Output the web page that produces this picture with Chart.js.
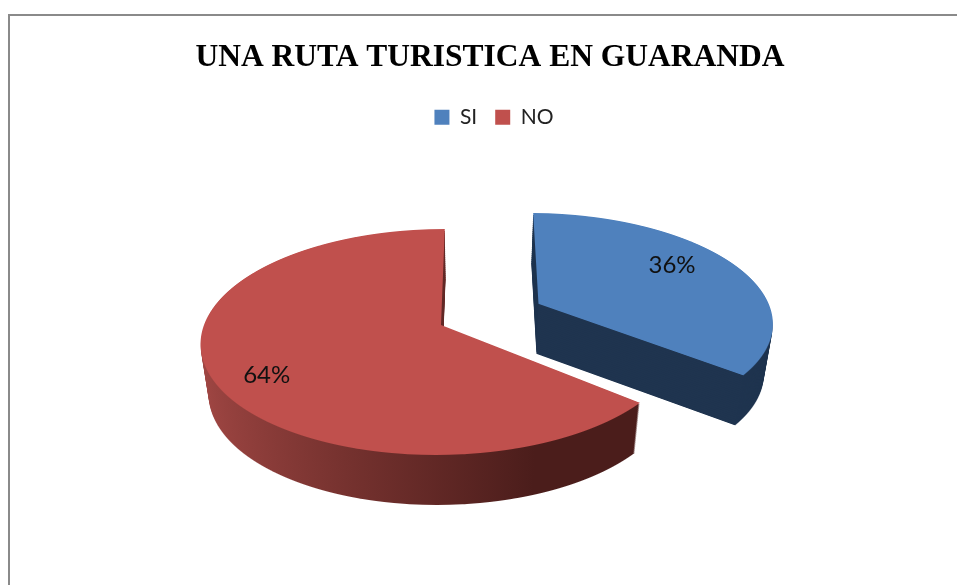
<!DOCTYPE html>
<html>
<head>
<meta charset="utf-8">
<style>html,body{margin:0;padding:0;background:#fff;overflow:hidden;width:957px;height:585px}canvas{display:block}</style>
<script src="https://cdn.jsdelivr.net/npm/chart.js@4/dist/chart.umd.min.js"></script>
</head>
<body>
<canvas id="c" width="980" height="585"></canvas>
<script>
const categories = ['SI', 'NO'];
const percentages = [36, 64];
const sliceColors = ['#4f81bd', '#c0504d'];
const chartTitle = 'UNA RUTA TURISTICA EN GUARANDA';

// Perspective projection of the pie plane (styling, not data)
const view = {vanishX: 470, horizonY: 325, squash: 0.4658, k: 0.000635, planeX: -29};
const explode = [110, 0];
const labelRadius = [176, 190];
const labelShift = -6.7 * Math.PI / 180;
const depth = 50, depthStep = 2, taper = 0.03, radius = 237;

function planeFromY(yRel) { return yRel / (view.squash + view.k * yRel); }
function yFromPlane(v) { return view.squash * v / (1 - view.k * v); }

// Paint one arc row by row, each row with its own perspective scale.
function paintArc(ctx, arc, index, d, fill) {
  const mid = (arc.startAngle + arc.endAngle) / 2, off = explode[index];
  const vc = Math.sin(mid) * off;
  const top = Math.floor(view.horizonY + d + yFromPlane(vc - radius)) - 1;
  const bottom = Math.ceil(view.horizonY + d + yFromPlane(vc + radius)) + 1;
  const saved = arc.options, savedR = arc.outerRadius;
  const base = ctx.getTransform();
  arc.options = Object.assign({}, saved, {backgroundColor: fill});
  // ArcElement grows an offset slice by offset * fix; undo that so all slices share one radius
  const fix = 1 - Math.sin(Math.min(Math.PI, arc.circumference || 0));
  arc.outerRadius = radius - off * fix;
  const layerScale = 1 - taper * d / depth;
  for (let y = top; y <= bottom; y++) {
    const yRel = y + 0.5 - d - view.horizonY;
    const v = planeFromY(yRel);
    const q = 1 - view.k * v;
    const dvdy = view.squash / Math.pow(view.squash + view.k * yRel, 2);
    const w = layerScale / q;
    ctx.save();
    ctx.beginPath();
    ctx.rect(0, y, 2000, 1);
    ctx.clip();
    ctx.setTransform(
      w, 0, 0, 1 / dvdy,
      view.vanishX + (view.planeX - arc.x) * w,
      y + 0.5 - (arc.y + v) / dvdy
    );
    arc.draw(ctx);
    ctx.restore();
  }
  ctx.setTransform(base);
  arc.options = saved;
  arc.outerRadius = savedR;
}

const pie3d = {
  id: 'pie3d',
  beforeDraw(chart) {
    const ctx = chart.ctx;
    ctx.save();
    ctx.strokeStyle = '#8a8a8a';
    ctx.lineWidth = 2;
    ctx.strokeRect(9, 15, 3000, 3000);
    ctx.restore();
  },
  afterLayout(chart) {
    chart.legend.left += 4;
    chart.legend.right += 4;
  },
  beforeDatasetsDraw(chart) {
    const ctx = chart.ctx, arcs = chart.getDatasetMeta(0).data;
    const cx = arcs[1].x;
    const g = ctx.createLinearGradient(cx - 263, 0, cx + 142, 0);
    g.addColorStop(0, '#a84a47');
    g.addColorStop(0.45, '#76322f');
    g.addColorStop(0.86, '#4b1d1b');
    g.addColorStop(1, '#4b1d1b');
    const walls = ['#1f344f', g];
    arcs.forEach((arc, i) => {
      for (let d = depth; d >= depthStep; d -= depthStep) paintArc(ctx, arc, i, d, walls[i]);
      paintArc(ctx, arc, i, 0, sliceColors[i]);
    });
    ctx.save();
    ctx.font = '24px Lato';
    ctx.fillStyle = '#111';
    ctx.textAlign = 'center';
    ctx.textBaseline = 'middle';
    arcs.forEach((arc, i) => {
      const mid = (arc.startAngle + arc.endAngle) / 2;
      const t = mid + labelShift, off = explode[i];
      const px = view.planeX + Math.cos(mid) * off + Math.cos(t) * labelRadius[i];
      const v = Math.sin(mid) * off + Math.sin(t) * labelRadius[i];
      ctx.fillText(percentages[i] + '%', view.vanishX + px / (1 - view.k * v), view.horizonY + yFromPlane(v));
    });
    ctx.restore();
    return false;
  }
};
new Chart(document.getElementById('c'), {
  type: 'pie',
  plugins: [pie3d],
  data: {
    labels: categories,
    datasets: [{
      data: percentages,
      backgroundColor: sliceColors,
      borderWidth: 0,
      offset: explode.map(o => o * 4),
      radius: radius
    }]
  },
  options: {
    responsive: false,
    animation: false,
    devicePixelRatio: 1,
    layout: {padding: {top: 39}},
    plugins: {
      tooltip: {enabled: false},
      title: {
        display: true,
        text: chartTitle,
        color: '#000',
        font: {family: '"Liberation Serif"', size: 31.5, weight: 'bold'},
        padding: {top: 0, bottom: 12}
      },
      legend: {
        position: 'top',
        labels: {
          boxWidth: 15, boxHeight: 15,
          color: '#222',
          font: {family: 'Lato', size: 21},
          padding: 18
        }
      }
    }
  }
});
</script>
</body>
</html>
